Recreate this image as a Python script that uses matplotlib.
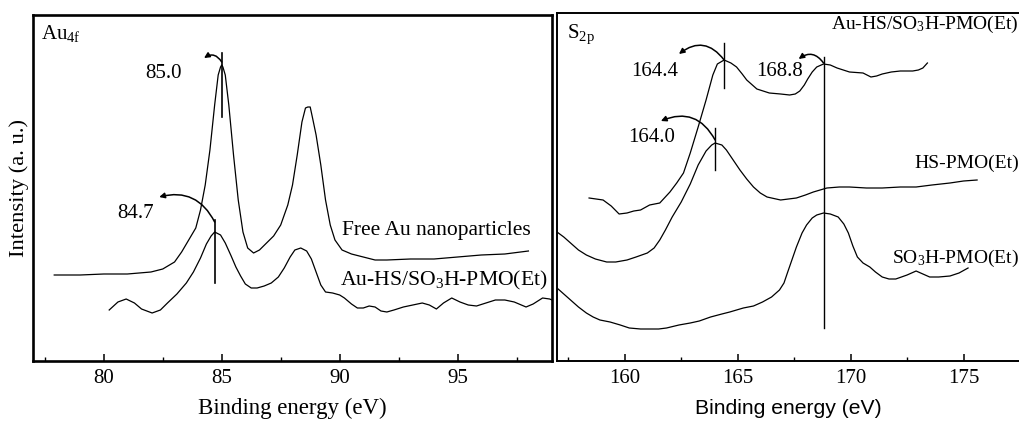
import matplotlib
matplotlib.use("Agg")
import matplotlib.pyplot as plt
from matplotlib.patches import FancyArrowPatch
from matplotlib.ticker import MultipleLocator

plt.rcParams['font.family'] = 'Liberation Serif'
plt.rcParams['mathtext.fontset'] = 'custom'
plt.rcParams['mathtext.rm'] = 'Liberation Serif'
plt.rcParams['mathtext.it'] = 'Liberation Serif:italic'
plt.rcParams['mathtext.bf'] = 'Liberation Serif:bold'

# ---------------- Au 4f region ----------------
au_free_be = [77.9, 79.0, 80.0, 81.0, 81.5, 82.0, 82.5, 83.0, 83.3, 83.6, 83.9, 84.1, 84.3,
              84.5, 84.7, 84.85, 84.95, 85.0, 85.05, 85.15, 85.3, 85.5, 85.7, 85.9, 86.1,
              86.35, 86.6, 86.9, 87.2, 87.5, 87.8, 88.0, 88.2, 88.4, 88.55, 88.65, 88.75,
              88.85, 89.0, 89.2, 89.4, 89.6, 89.8, 90.1, 90.5, 91.0, 91.5, 92.0, 93.0, 94.0,
              95.0, 96.0, 97.0, 98.0]
au_free_int = [86, 86, 87, 87, 88, 89, 92, 99, 109, 121, 133, 151, 176,
               211, 256, 286, 294, 296, 294, 286, 256, 206, 161, 129, 113,
               108, 111, 118, 125, 136, 156, 176, 206, 239, 253, 254, 254,
               243, 226, 196, 161, 136, 121, 111, 107, 104, 101, 101, 102, 102,
               104, 106, 107, 110]

au_pmo_be = [80.23, 80.6, 80.95, 81.3, 81.6, 82.05, 82.4, 82.7, 83.1, 83.5, 83.8, 84.1,
             84.35, 84.55, 84.7, 84.95, 85.15, 85.4, 85.6, 85.8, 86.0, 86.25, 86.5, 86.8,
             87.1, 87.4, 87.65, 87.9, 88.1, 88.35, 88.6, 88.8, 89.0, 89.2, 89.4, 89.7,
             90.0, 90.2, 90.5, 90.75, 91.0, 91.25, 91.5, 91.75, 92.0, 92.3, 92.7, 93.1,
             93.5, 93.8, 94.1, 94.4, 94.75, 95.1, 95.45, 95.8, 96.2, 96.6, 97.0, 97.4,
             97.9, 98.2, 98.6, 98.9, 99.0]
au_pmo_int = [51, 59, 62, 58, 52, 48, 51, 58, 67, 78, 89, 103,
              117, 125, 129, 126, 118, 105, 94, 85, 77, 73, 73, 75,
              78, 84, 93, 104, 111, 113, 110, 102, 89, 76, 69, 68,
              66, 63, 57, 53, 53, 55, 54, 50, 49, 51, 54, 56,
              58, 56, 52, 58, 63, 59, 56, 55, 58, 61, 61, 59,
              54, 57, 63, 62, 61]

au_peaks = [85.0, 84.7]

# ---------------- S 2p region ----------------
s_aupmo_be = [158.42, 159.04, 159.4, 159.75, 160.1, 160.4, 160.7, 161.1, 161.55, 162.0,
              162.3, 162.6, 162.9, 163.25, 163.6, 163.9, 164.1, 164.4, 164.7, 164.95,
              165.2, 165.4, 165.85, 166.4, 166.9, 167.3, 167.55, 167.75, 167.95, 168.1,
              168.3, 168.5, 168.8, 169.1, 169.4, 169.95, 170.55, 170.9, 171.15, 171.4,
              171.8, 172.2, 172.75, 173.0, 173.2, 173.4]
s_aupmo_int = [163, 161, 155, 147, 148, 150, 151, 156, 158, 169,
               178, 188, 208, 234, 261, 286, 297, 301, 298, 294,
               287, 281, 272, 268, 267, 266, 267, 270, 276, 282,
               289, 294, 297, 296, 293, 289, 288, 284, 285, 287,
               289, 290, 290, 291, 293, 298]

s_hs_be = [157.0, 157.3, 157.6, 157.95, 158.3, 158.7, 159.2, 159.6, 160.1, 160.5, 161.0,
           161.3, 161.55, 161.8, 162.1, 162.5, 162.9, 163.25, 163.6, 163.85, 164.0, 164.3,
           164.5, 164.8, 165.1, 165.4, 165.7, 166.0, 166.3, 166.9, 167.6, 168.0, 168.35,
           168.95, 169.5, 169.95, 170.7, 171.4, 172.2, 172.9, 173.6, 174.4, 175.0, 175.6]
s_hs_int = [129, 124, 118, 111, 106, 102, 99, 99, 101, 104, 108,
            113, 121, 131, 144, 159, 177, 196, 210, 216, 218, 216,
            211, 201, 191, 182, 174, 168, 164, 161, 163, 166, 169,
            173, 174, 174, 173, 173, 174, 174, 176, 178, 180, 181]

s_so3h_be = [157.0, 157.3, 157.6, 157.95, 158.3, 158.6, 158.9, 159.35, 159.8, 160.2, 160.7,
             161.1, 161.5, 161.85, 162.4, 162.9, 163.3, 163.8, 164.3, 164.65, 165.25, 165.7,
             166.1, 166.5, 166.85, 167.05, 167.2, 167.4, 167.6, 167.85, 168.05, 168.3, 168.5,
             168.8, 169.1, 169.45, 169.7, 169.9, 170.1, 170.3, 170.55, 170.85, 171.1, 171.4,
             171.7, 172.0, 172.25, 172.5, 172.9, 173.2, 173.5, 173.9, 174.4, 174.8, 175.2]
s_so3h_int = [73, 67, 61, 54, 48, 44, 41, 39, 36, 33, 32,
              32, 32, 33, 36, 38, 40, 44, 47, 49, 53, 55,
              59, 64, 71, 78, 88, 101, 114, 128, 136, 143, 146,
              148, 147, 144, 137, 128, 115, 104, 98, 94, 89, 84,
              82, 82, 84, 86, 90, 87, 84, 84, 85, 88, 93]

s_peaks = [164.4, 168.8, 164.0]

# ---------------- figure ----------------
W, H = 1020, 422
fig = plt.figure(figsize=(W / 100, H / 100), dpi=100)
ax1 = fig.add_axes([33 / W, 61 / H, 519 / W, 346 / H])
ax2 = fig.add_axes([557 / W, 61 / H, 463 / W, 348 / H])

lw_curve = 0.9
for ax in (ax1, ax2):
    ax.set_yticks([])
    ax.xaxis.set_major_locator(MultipleLocator(5))
    ax.xaxis.set_minor_locator(MultipleLocator(2.5))
    ax.tick_params(axis='x', which='major', direction='in', length=5, width=1.1,
                   labelsize=15, pad=6)
    ax.tick_params(axis='x', which='minor', direction='in', length=3, width=1.0)


def curved_arrow(ax, start, end, rad):
    ax.add_patch(FancyArrowPatch(start, end, connectionstyle=f'arc3,rad={rad}',
                                 arrowstyle='-|>', mutation_scale=8, lw=1.1,
                                 color='black', shrinkA=0, shrinkB=0))


# Au 4f panel
ax1.plot(au_free_be, au_free_int, color='black', lw=lw_curve)
ax1.plot(au_pmo_be, au_pmo_int, color='black', lw=lw_curve)
ax1.set_xlim(77.0, 99.0)
ax1.set_ylim(0, 346)
for sp in ax1.spines.values():
    sp.set_linewidth(1.9)
ax1.set_xlabel('Binding energy (eV)', fontsize=16.5, labelpad=7)
ax1.set_ylabel('Intensity (a. u.)', fontsize=16.2, labelpad=3)
ax1.text(0.015, 0.93, r'Au$_{\mathrm{4f}}$', transform=ax1.transAxes, fontsize=15,
         va='baseline', ha='left')

# peak markers, arrows and values
au_marks = [(au_peaks[0], 244, 308, 299, 84.25, 303, 82.55, 287, 0.5),
            (au_peaks[1], 78, 141, 139, 82.35, 164, 81.35, 148, 0.4)]
for pk, y0, y1, ys, xe, ye, xt, yt, rad in au_marks:
    ax1.plot([pk, pk], [y0, y1], color='black', lw=1.2)
    curved_arrow(ax1, (pk, ys), (xe, ye), rad)
    ax1.text(xt, yt, f'{pk:.1f}', fontsize=15, ha='center', va='center')

ax1.text(90.1, 131, 'Free Au nanoparticles', fontsize=15.5, ha='left', va='center')
ax1.text(90.0, 81, r'Au-HS/SO$_3$H-PMO(Et)', fontsize=15.6, ha='left', va='center')

# S 2p panel
ax2.plot(s_aupmo_be, s_aupmo_int, color='black', lw=lw_curve)
ax2.plot(s_hs_be, s_hs_int, color='black', lw=lw_curve)
ax2.plot(s_so3h_be, s_so3h_int, color='black', lw=lw_curve)
ax2.set_xlim(157.0, 177.5)
ax2.set_ylim(0, 348)
ax2.spines['right'].set_visible(False)
for sp in ax2.spines.values():
    sp.set_linewidth(1.4)
ax2.set_xlabel('Binding energy (eV)', fontsize=15.2, labelpad=8, family='Liberation Sans')
ax2.text(0.022, 0.928, r'S$_{\mathrm{2p}}$', transform=ax2.transAxes, fontsize=15,
         va='baseline', ha='left')

s_marks = [(s_peaks[0], 273, 318, 301, 162.4, 307, 161.33, 290, 0.5),
           (s_peaks[1], 33, 304, 298, 167.7, 302, 166.87, 290, 0.5),
           (s_peaks[2], 191, 233, 221, 161.6, 240, 161.2, 224, 0.45)]
for pk, y0, y1, ys, xe, ye, xt, yt, rad in s_marks:
    ax2.plot([pk, pk], [y0, y1], color='black', lw=1.0)
    curved_arrow(ax2, (pk, ys), (xe, ye), rad)
    ax2.text(xt, yt, f'{pk:.1f}', fontsize=15, ha='center', va='center')

ax2.text(177.45, 337, r'Au-HS/SO$_3$H-PMO(Et)', fontsize=14, ha='right', va='center')
ax2.text(177.45, 198, 'HS-PMO(Et)', fontsize=14, ha='right', va='center')
ax2.text(177.45, 103, r'SO$_3$H-PMO(Et)', fontsize=14, ha='right', va='center')

fig.savefig('out.png', dpi=100)
